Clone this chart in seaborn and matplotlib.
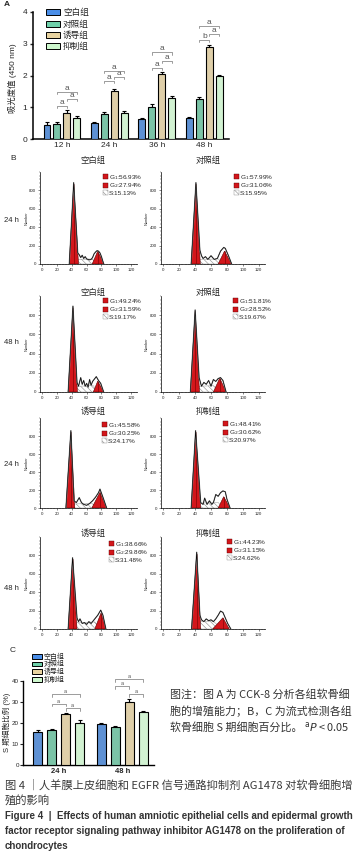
import numpy as np
import pandas as pd
import matplotlib
matplotlib.use('Agg')
import matplotlib.pyplot as plt
import seaborn as sns
from matplotlib.patches import Patch, Polygon
from matplotlib.ticker import MultipleLocator

sns.set_theme(style='ticks')
plt.rcParams['font.family'] = ['Liberation Sans', 'Noto Sans CJK SC', 'DejaVu Sans']
plt.rcParams['hatch.linewidth'] = 0.4
plt.rcParams['axes.unicode_minus'] = False

# ---------------- data ----------------
GROUPS = ['空白组', '对照组', '诱导组', '抑制组']
COLORS = ['#4a8ee8', '#6fd0aa', '#e8d3a0', '#cdf7cd']

A_TIMES = ['12 h', '24 h', '36 h', '48 h']
A_BLANK = [0.45, 0.50, 0.62, 0.66]
A_CTRL = [0.48, 0.78, 1.02, 1.26]
A_INDUCE = [0.83, 1.52, 2.04, 2.90]
A_INHIB = [0.65, 0.83, 1.30, 1.98]
A_BLANK_ERR = [0.07, 0.05, 0.05, 0.03]
A_CTRL_ERR = [0.04, 0.06, 0.08, 0.06]
A_INDUCE_ERR = [0.08, 0.07, 0.07, 0.07]
A_INHIB_ERR = [0.06, 0.05, 0.05, 0.05]
# significance: (对照-诱导, 诱导-抑制, 对照-抑制)
A_SIG = [['a', 'a', 'a'], ['a', 'a', 'a'], ['a', 'a', 'a'], ['b', 'a', 'a']]

C_TIMES = ['24 h', '48 h']
C_BLANK = [15.8, 19.4]
C_CTRL = [16.6, 18.0]
C_INDUCE = [24.1, 30.2]
C_INHIB = [20.2, 25.1]
C_BLANK_ERR = [1.0, 0.5]
C_CTRL_ERR = [0.7, 0.8]
C_INDUCE_ERR = [0.7, 1.2]
C_INHIB_ERR = [1.0, 0.8]
C_SIG = [['a', 'a', 'a'], ['a', 'a', 'a']]

HIST_TITLES = ['空白组', '对照组', '空白组', '对照组', '诱导组', '抑制组', '诱导组', '抑制组']
HIST_ROWS = ['24 h', '48 h', '24 h', '48 h']
G1_PCT = ['56.93', '57.99', '49.24', '51.81', '45.58', '48.41', '38.66', '44.23']
G2_PCT = ['27.94', '31.06', '31.59', '28.52', '30.25', '30.62', '29.86', '31.15']
S_PCT = ['15.13', '15.95', '19.17', '19.67', '24.17', '20.97', '31.48', '24.62']
# G1 / G2 peaks: (start channel, apex channel, end channel, apex count)
G1_PEAK = [(36.5, 42.5, 49, 870), (35, 41, 46.5, 870), (35, 41.5, 47.5, 880), (34, 40, 45.5, 840),
           (32, 38.7, 44, 845), (35, 40.6, 47, 845), (35, 41, 47, 760), (35.5, 42, 47, 820)]
G2_PEAK = [(67.5, 75, 83.5, 140), (69, 77, 86, 140), (69, 75, 83, 114), (63, 71, 79, 145),
           (67, 78, 87, 175), (69, 76, 84, 126), (71, 79.6, 86, 178), (62, 75, 83, 122)]
S_LEVEL = [50, 50, 60, 60, 45, 55, 70, 80]
OUT_X = [
    [48, 50, 52, 54, 56, 58, 60, 62, 64, 66, 68, 70, 72, 74, 76, 78, 80, 83],
    [46, 48, 50, 53, 56, 60, 64, 68, 72, 76, 78, 82, 86],
    [47, 49, 52, 54, 56, 58, 60, 62, 64, 66, 68, 70, 73, 76, 79, 83],
    [45, 48, 51, 54, 57, 60, 63, 66, 69, 72, 75, 79],
    [43, 46, 50, 53, 56, 60, 64, 68, 72, 76, 78, 82, 87],
    [47, 50, 52, 55, 58, 61, 63, 66, 69, 72, 75, 78, 80, 84],
    [47, 49, 51, 54, 57, 60, 63, 66, 69, 72, 75, 79, 82, 86],
    [46, 48, 51, 54, 57, 60, 63, 66, 69, 72, 75, 78, 81, 85],
]
OUT_Y = [
    [120, 100, 70, 95, 60, 80, 55, 50, 45, 50, 70, 110, 130, 145, 140, 120, 80, 0],
    [150, 90, 60, 80, 50, 90, 50, 60, 140, 180, 170, 90, 0],
    [100, 60, 150, 80, 120, 60, 90, 50, 130, 70, 110, 130, 160, 120, 90, 0],
    [150, 60, 100, 80, 120, 60, 130, 110, 140, 150, 120, 0],
    [80, 60, 115, 60, 40, 30, 50, 80, 120, 170, 210, 120, 0],
    [60, 40, 110, 40, 80, 40, 60, 150, 130, 170, 190, 180, 100, 0],
    [120, 80, 110, 60, 70, 50, 80, 60, 90, 120, 150, 205, 150, 0],
    [150, 100, 80, 110, 90, 100, 80, 110, 150, 195, 180, 120, 60, 0],
]

# ---------------- layout helpers ----------------
W, H = 362, 856
fig = plt.figure(figsize=(W / 100, H / 100), dpi=100)
fig.patch.set_facecolor('white')


def add_ax(l, t, r, b):
    return fig.add_axes([l / W, 1 - b / H, (r - l) / W, (b - t) / H])


def ftext(x, y, s, **kw):
    return fig.text(x / W, 1 - y / H, s, **kw)


def bar_panel(ax, times, series, errs, width, gap, lw):
    rows = []
    for g, vals in zip(GROUPS, series):
        for t, v in zip(times, vals):
            rows.append({'time': t, 'group': g, 'value': v})
    df = pd.DataFrame(rows)
    sns.barplot(data=df, x='time', y='value', hue='group', order=times, hue_order=GROUPS,
                palette=COLORS, width=width, gap=gap, edgecolor='black', linewidth=lw,
                errorbar=None, legend=False, ax=ax, zorder=3)
    bars = sorted(ax.patches, key=lambda p: p.get_x())
    centers = {}
    for j, t in enumerate(times):
        for i in range(len(GROUPS)):
            p = bars[j * len(GROUPS) + i]
            cx = p.get_x() + p.get_width() / 2
            centers[(j, i)] = cx
            top = series[i][j]
            ax.errorbar([cx], [top], yerr=[[0], [errs[i][j]]], fmt='none', ecolor='black',
                        elinewidth=lw, capsize=1.6, capthick=lw, zorder=2)
    return centers


def bracket(ax, x1, x2, y, h, label, fs):
    ax.plot([x1, x1, x2, x2], [y - h, y, y, y - h], color='#8c8c8c', lw=0.6, clip_on=False, zorder=4)
    ax.text((x1 + x2) / 2, y, label, ha='center', va='bottom', fontsize=fs, color='#555555',
            clip_on=False)


def style_bar_axes(ax, lw):
    sns.despine(ax=ax)
    for s in ['left', 'bottom']:
        ax.spines[s].set_linewidth(lw)
        ax.spines[s].set_color('black')
    ax.set_xlabel('')
    ax.set_ylabel('')


# ---------------- Panel A ----------------
axA = add_ax(33, 12, 229, 139)
A_SERIES = [A_BLANK, A_CTRL, A_INDUCE, A_INHIB]
A_ERRS = [A_BLANK_ERR, A_CTRL_ERR, A_INDUCE_ERR, A_INHIB_ERR]
cA = bar_panel(axA, A_TIMES, A_SERIES, A_ERRS, 0.84, 0.3, 0.8)
style_bar_axes(axA, 1.1)
axA.set_xlim(-0.61, 3.52)
axA.set_ylim(0, 4)
axA.set_yticks([0, 1, 2, 3, 4])
axA.tick_params(axis='y', labelsize=6, length=2.5, width=1, pad=1.5)
axA.tick_params(axis='x', labelsize=6, length=0, pad=2)
A_GAPS = [[0.13, 0.35, 0.57], [0.24, 0.36, 0.55], [0.13, 0.35, 0.62], [0.15, 0.33, 0.59]]
for j in range(4):
    top = A_INDUCE[j] + A_INDUCE_ERR[j]
    pairs = [(1, 2), (2, 3), (1, 3)]
    for k, (a, b) in enumerate(pairs):
        bracket(axA, cA[(j, a)], cA[(j, b)], top + A_GAPS[j][k], 0.07, A_SIG[j][k], 6)
handles = [Patch(facecolor=c, edgecolor='black', linewidth=0.7) for c in COLORS]
axA.legend(handles, GROUPS, loc='upper left', bbox_to_anchor=(0.065, 1.03), frameon=False,
           fontsize=6.2, handlelength=1.6, handleheight=0.7, labelspacing=0.28, handletextpad=0.4,
           borderpad=0, borderaxespad=0)
ftext(12, 78, '吸光度值 (450 nm)', rotation=90, ha='center', va='center', fontsize=6)
ftext(4, 5, 'A', ha='left', va='center', fontsize=6, fontweight='bold')

# ---------------- Panel B ----------------
ftext(10, 158, 'B', ha='left', va='center', fontsize=6)
HIST_BOX = [(40, 172, 137, 264), (161, 172, 265, 264), (40, 296, 137, 392), (161, 296, 265, 392),
            (40, 418, 137, 508), (161, 418, 265, 508), (40, 537, 137, 629), (161, 537, 265, 629)]
TITLE_POS = [(93, 161), (208, 161), (93, 293), (208, 293), (93, 412), (208, 412), (93, 534), (208, 534)]
LEG_POS = [(103, 173), (234, 173), (103, 297), (233, 297), (102, 421), (223, 420), (109, 540), (227, 538)]
ROW_Y = [220, 343, 465, 588]
RED = '#d3161b'

for k in range(8):
    l, t, r, b = HIST_BOX[k]
    ax = add_ax(l, t, r, b)
    ax.set_xlim(-3, 128)
    ax.set_ylim(0, 1000)
    g1s, g1a, g1e, g1h = G1_PEAK[k]
    g2s, g2a, g2e, g2h = G2_PEAK[k]
    sh = S_LEVEL[k]
    ax.add_patch(Polygon([[g1a, 0], [g1e, sh], [g2s, sh * 1.1], [g2a, 0]], closed=True,
                         facecolor='white', edgecolor='#8a8a8a', hatch='\\\\\\\\\\\\', lw=0.3, zorder=1))
    for (ps, pa, pe, ph) in [(g1s, g1a, g1e, g1h), (g2s, g2a, g2e, g2h)]:
        ax.add_patch(Polygon([[ps, 0], [pa, ph], [pe, 0]], closed=True, facecolor=RED,
                             edgecolor='#5a0000', lw=0.4, zorder=2))
        ax.plot([pa, pa], [0, ph], color='#6a0000', lw=0.7, alpha=0.55, zorder=2.5)
    xs = [g1s, g1a] + OUT_X[k]
    ys = [0, g1h + 15] + OUT_Y[k]
    ax.plot(xs, ys, color='#888888', lw=0.9, zorder=3)
    ax.plot(xs, ys, color='black', lw=0.45, zorder=4)
    sns.despine(ax=ax)
    for s in ['left', 'bottom']:
        ax.spines[s].set_linewidth(0.5)
        ax.spines[s].set_color('black')
    ax.set_xticks(range(0, 121, 20))
    ax.set_yticks([0, 200, 400, 600, 800])
    ax.xaxis.set_minor_locator(MultipleLocator(4))
    ax.yaxis.set_minor_locator(MultipleLocator(40))
    ax.tick_params(which='major', labelsize=3.2, length=1.6, width=0.4, pad=1)
    ax.tick_params(which='minor', length=0.9, width=0.3)
    ax.set_facecolor('white')
    ax.text(-0.14, 0.5, 'Number', transform=ax.transAxes, rotation=90, fontsize=2.8,
            ha='center', va='center')
    tx, ty = TITLE_POS[k]
    ftext(tx, ty, HIST_TITLES[k], ha='center', va='center', fontsize=6)
    hh = [Patch(facecolor=RED, edgecolor='#5a0000', lw=0.3),
          Patch(facecolor=RED, edgecolor='#5a0000', lw=0.3),
          Patch(facecolor='white', edgecolor='#8a8a8a', hatch='\\\\\\\\\\\\', lw=0.3)]
    labs = [r'G$_1$:' + G1_PCT[k] + '%', r'G$_2$:' + G2_PCT[k] + '%', 'S:' + S_PCT[k] + '%']
    lx, ly = LEG_POS[k]
    ax.legend(hh, labs, loc='upper left', bbox_to_anchor=(lx / W, 1 - ly / H),
              bbox_transform=fig.transFigure, frameon=False, fontsize=4.6, handlelength=0.75,
              handleheight=0.75, labelspacing=-0.05, handletextpad=0.15, borderpad=0,
              borderaxespad=0)

for lab, y in zip(HIST_ROWS, ROW_Y):
    ftext(4, y, lab, ha='left', va='center', fontsize=5.5)

# ---------------- Panel C ----------------
axC = add_ax(23, 681, 154, 765)
C_SERIES = [C_BLANK, C_CTRL, C_INDUCE, C_INHIB]
C_ERRS = [C_BLANK_ERR, C_CTRL_ERR, C_INDUCE_ERR, C_INHIB_ERR]
cC = bar_panel(axC, C_TIMES, C_SERIES, C_ERRS, 0.88, 0.36, 0.8)
style_bar_axes(axC, 1.0)
axC.set_xlim(-0.56, 1.5)
axC.set_ylim(0, 40)
axC.set_yticks([0, 10, 20, 30, 40])
axC.tick_params(axis='y', labelsize=4.5, length=2, width=0.8, pad=1)
axC.tick_params(axis='x', labelsize=5.5, length=0, pad=2)
for lbl in axC.get_xticklabels():
    lbl.set_fontweight('bold')
C_GAPS = [[4.4, 2.2, 8.8], [6.2, 2.2, 9.5]]
for j in range(2):
    top = C_INDUCE[j] + C_INDUCE_ERR[j]
    pairs = [(1, 2), (2, 3), (1, 3)]
    for k, (a, b) in enumerate(pairs):
        bracket(axC, cC[(j, a)], cC[(j, b)], top + C_GAPS[j][k], 1.2, C_SIG[j][k], 4)
axC.legend(handles, GROUPS, loc='upper left', bbox_to_anchor=(0.069, 1.33), frameon=False,
           fontsize=5.0, handlelength=1.5, handleheight=0.65, labelspacing=0.05, handletextpad=0.15,
           borderpad=0, borderaxespad=0)
ftext(7, 722, 'S 期细胞比例 (%)', rotation=90, ha='center', va='center', fontsize=5.5)
ftext(10, 650, 'C', ha='left', va='center', fontsize=6)

# ---------------- notes & caption ----------------
note_kw = dict(ha='left', va='center', fontsize=7.9, color='#333333',
               family=['Noto Sans CJK SC', 'DejaVu Sans'])
ftext(170, 694, '图注：图 A 为 CCK-8 分析各组软骨细', **note_kw)
ftext(170, 711, '胞的增殖能力；B，C 为流式检测各组', **note_kw)
t3 = ftext(170, 727, '软骨细胞 S 期细胞百分比。', **note_kw)
fig.canvas.draw()
bb = t3.get_window_extent()
fig.text(bb.x1 / W + 2 / W, 1 - 727 / H, r'$^{\mathrm{a}}P$ < 0.05', ha='left', va='center',
         fontsize=7.9, color='#333333', family=['Noto Sans CJK SC', 'DejaVu Sans'])

cap_kw = dict(ha='left', va='center', fontsize=8.1, color='#3a3a3a',
              family=['Noto Sans CJK SC', 'DejaVu Sans'])
ftext(5, 785, '图 4 ｜人羊膜上皮细胞和 EGFR 信号通路抑制剂 AG1478 对软骨细胞增', **cap_kw)
ftext(5, 801, '殖的影响', **cap_kw)
en_kw = dict(ha='left', va='center', fontsize=7.0, color='#333333', fontweight='bold',
             family=['Liberation Sans Narrow', 'Liberation Sans', 'DejaVu Sans'])
ftext(5, 816, 'Figure 4  |  Effects of human amniotic epithelial cells and epidermal growth', **en_kw)
ftext(5, 831, 'factor receptor signaling pathway inhibitor AG1478 on the proliferation of', **en_kw)
ftext(5, 846, 'chondrocytes', **en_kw)

fig.savefig('out.png', dpi=100, facecolor='white')
